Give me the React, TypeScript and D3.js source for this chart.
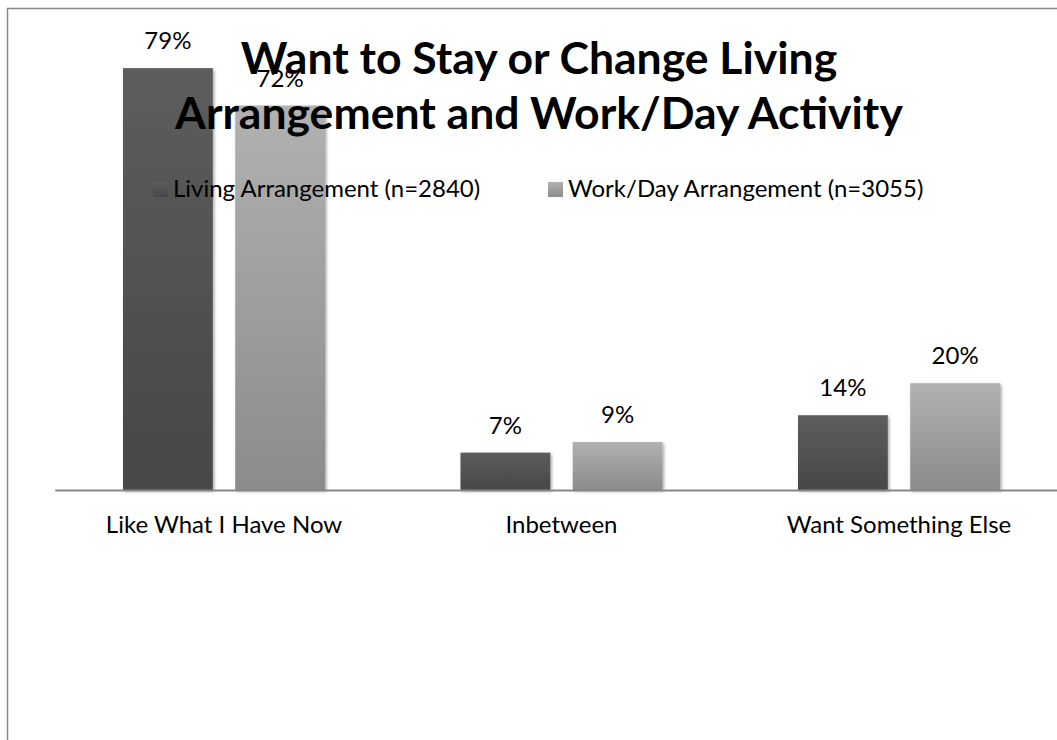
import React, { useEffect, useRef } from 'react';
import * as d3 from 'd3';

const categories = ['Like What I Have Now', 'Inbetween', 'Want Something Else'];
const seriesNames = ['Living Arrangement (n=2840)', 'Work/Day Arrangement (n=3055)'];
const livingValues = [0.79, 0.07, 0.14];
const workDayValues = [0.72, 0.09, 0.2];
const titleLines = ['Want to Stay or Change Living', 'Arrangement and Work/Day Activity'];

const WIDTH = 1057;
const HEIGHT = 740;
const FONT = 'Lato, "Open Sans", sans-serif';

// gradient stops per series: [top, bottom]
const seriesColors = [
  ['#5d5d5d', '#474747'],
  ['#b1b1b1', '#8b8b8b'],
];

const App: React.FC = () => {
  const svgRef = useRef<SVGSVGElement>(null);

  useEffect(() => {
    if (!svgRef.current) return;
    const svg = d3.select(svgRef.current);
    svg.selectAll('*').remove();

    const defs = svg.append('defs');
    seriesColors.forEach((c, i) => {
      const g = defs.append('linearGradient')
        .attr('id', `bar-grad-${i}`)
        .attr('x1', '0%').attr('x2', '0%')
        .attr('y1', '0%').attr('y2', '100%');
      g.append('stop').attr('offset', '0%').attr('stop-color', c[0]);
      g.append('stop').attr('offset', '100%').attr('stop-color', c[1]);
    });
    defs.append('filter')
      .attr('id', 'bar-shadow')
      .attr('x', '-10%').attr('y', '-10%')
      .attr('width', '130%').attr('height', '130%')
      .append('feDropShadow')
      .attr('dx', 1.5).attr('dy', 1.5)
      .attr('stdDeviation', 1.5)
      .attr('flood-color', '#000')
      .attr('flood-opacity', 0.35);

    // chart frame (only left and top edges fall inside the picture)
    svg.append('rect')
      .attr('x', 7.5).attr('y', 8.5)
      .attr('width', WIDTH + 20).attr('height', HEIGHT + 20)
      .attr('fill', 'white')
      .attr('stroke', '#878787')
      .attr('stroke-width', 1.5);

    const plotLeft = 55.25;
    const plotRight = 1067.75;
    const baseline = 490;

    const x0 = d3.scaleBand<string>()
      .domain(categories)
      .range([plotLeft, plotRight]);

    const x1 = d3.scaleBand<number>()
      .domain([0, 1])
      .range([x0.bandwidth() / 2 - 101, x0.bandwidth() / 2 + 101])
      .paddingInner(0.2);

    const y = d3.scaleLinear()
      .domain([0, 0.9])
      .range([baseline, baseline - 0.9 * 534]);

    const series = [livingValues, workDayValues];
    const pct = d3.format('.0%');

    series.forEach((vals, si) => {
      const g = svg.append('g');
      g.selectAll('rect')
        .data(vals)
        .enter()
        .append('rect')
        .attr('x', (_, i) => x0(categories[i])! + x1(si)!)
        .attr('y', d => y(d))
        .attr('width', x1.bandwidth())
        .attr('height', d => baseline - y(d))
        .attr('fill', `url(#bar-grad-${si})`)
        .attr('filter', 'url(#bar-shadow)');
    });

    // axis line
    svg.append('line')
      .attr('x1', plotLeft).attr('x2', WIDTH)
      .attr('y1', baseline + 0.5).attr('y2', baseline + 0.5)
      .attr('stroke', '#878787')
      .attr('stroke-width', 2);

    // category labels
    svg.append('g')
      .selectAll('text')
      .data(categories)
      .enter()
      .append('text')
      .attr('x', d => x0(d)! + x0.bandwidth() / 2)
      .attr('y', 533)
      .attr('text-anchor', 'middle')
      .attr('font-family', FONT)
      .attr('font-size', 24)
      .attr('fill', '#000')
      .text(d => d);

    // title
    svg.append('g')
      .selectAll('text')
      .data(titleLines)
      .enter()
      .append('text')
      .attr('x', 539)
      .attr('y', (_, i) => 74 + i * 55)
      .attr('text-anchor', 'middle')
      .attr('font-family', FONT)
      .attr('font-weight', 'bold')
      .attr('font-size', 44.5)
      .attr('fill', '#000')
      .text(d => d);

    // data labels
    series.forEach((vals, si) => {
      svg.append('g')
        .selectAll('text')
        .data(vals)
        .enter()
        .append('text')
        .attr('x', (_, i) => x0(categories[i])! + x1(si)! + x1.bandwidth() / 2)
        .attr('y', d => y(d) - 19)
        .attr('text-anchor', 'middle')
        .attr('font-family', FONT)
        .attr('font-size', 24)
        .attr('fill', '#000')
        .text(d => pct(d));
    });

    // legend
    const legendX = [153, 548];
    const legend = svg.append('g');
    seriesNames.forEach((name, i) => {
      legend.append('rect')
        .attr('x', legendX[i]).attr('y', 182)
        .attr('width', 15).attr('height', 15)
        .attr('fill', `url(#bar-grad-${i})`);
      legend.append('text')
        .attr('x', legendX[i] + 20)
        .attr('y', 197)
        .attr('font-family', FONT)
        .attr('font-size', 24)
        .attr('fill', '#000')
        .text(name);
    });
  }, []);

  return (
    <svg
      ref={svgRef}
      width={WIDTH}
      height={HEIGHT}
      style={{ position: 'fixed', left: 0, top: 0, background: 'white' }}
    />
  );
};

export default App;
